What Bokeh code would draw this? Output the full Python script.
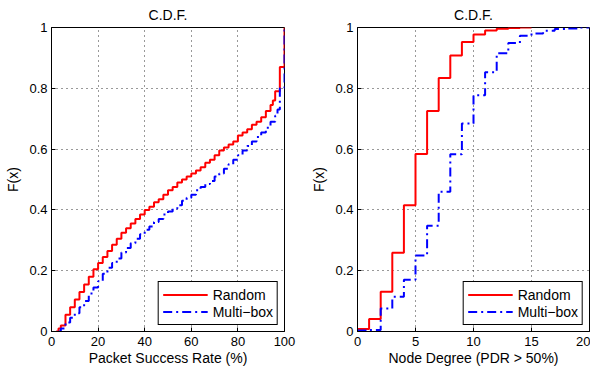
from bokeh.plotting import figure
from bokeh.layouts import row
from bokeh.models import Range1d, FixedTicker
from bokeh.embed import file_html
from bokeh.resources import INLINE

# ---- Left panel: Packet Success Rate (%) CDF ----
psr_random_x = [2, 3, 4, 6, 8, 10, 12, 14, 16, 18, 20, 22, 24, 26, 28, 30, 32, 34, 36, 38,
                40, 42, 44, 46, 48, 50, 52, 54, 56, 58, 60, 62, 64, 66, 68, 70, 72, 74, 76,
                78, 80, 82, 84, 86, 88, 90, 92, 94, 95, 96, 98, 100]
psr_random_f = [0.0, 0.01, 0.02, 0.055, 0.08, 0.105, 0.13, 0.155, 0.18, 0.205, 0.225, 0.245,
                0.265, 0.285, 0.305, 0.325, 0.34, 0.355, 0.37, 0.385, 0.40, 0.41, 0.425, 0.435,
                0.45, 0.465, 0.475, 0.49, 0.50, 0.51, 0.52, 0.53, 0.54, 0.555, 0.565, 0.58,
                0.595, 0.605, 0.615, 0.625, 0.645, 0.655, 0.665, 0.68, 0.69, 0.705, 0.725,
                0.745, 0.76, 0.79, 0.87, 1.0]
psr_multibox_x = [3, 4, 6, 8, 10, 12, 14, 16, 18, 20, 22, 24, 26, 28, 30, 32, 34, 36, 38, 40,
                  42, 44, 46, 48, 50, 52, 54, 56, 58, 60, 62, 64, 66, 68, 70, 72, 74, 76, 78,
                  80, 82, 84, 86, 88, 90, 92, 94, 96, 97, 98, 100]
psr_multibox_f = [0.0, 0.01, 0.03, 0.045, 0.06, 0.08, 0.10, 0.125, 0.145, 0.165, 0.19, 0.21,
                  0.225, 0.24, 0.26, 0.275, 0.29, 0.305, 0.32, 0.335, 0.345, 0.36, 0.37, 0.385,
                  0.395, 0.405, 0.415, 0.43, 0.44, 0.45, 0.465, 0.475, 0.485, 0.495, 0.51,
                  0.52, 0.535, 0.55, 0.565, 0.58, 0.595, 0.61, 0.625, 0.64, 0.655, 0.67, 0.69,
                  0.71, 0.73, 0.80, 1.0]
psr_ticks = [0, 20, 40, 60, 80, 100]

# ---- Right panel: Node Degree (PDR > 50%) CDF ----
deg_random_x = [0, 1, 2, 3, 4, 5, 6, 7, 8, 9, 10, 11, 12, 13, 14, 15]
deg_random_f = [0.008, 0.041, 0.131, 0.259, 0.415, 0.584, 0.725, 0.834, 0.908, 0.952, 0.977,
                0.990, 0.996, 0.998, 1.0, 1.0]
deg_multibox_x = [0, 1, 2, 3, 4, 5, 6, 7, 8, 9, 10, 11, 12, 13, 14, 15, 16, 17, 18, 19, 20]
deg_multibox_f = [0.003, 0.005, 0.076, 0.114, 0.17, 0.25, 0.348, 0.46, 0.583, 0.684, 0.777,
                  0.853, 0.915, 0.949, 0.973, 0.98, 0.989, 0.995, 0.997, 1.0, 1.0]
deg_ticks = [0, 5, 10, 15, 20]

y_ticks = [0, 0.2, 0.4, 0.6, 0.8, 1]
y_tick_labels = ["0", "0.2", "0.4", "0.6", "0.8", "1"]

series_names = ["Random", "Multi\u2212box"]
title_text = "C.D.F."

FONT = "Liberation Sans"
FIG_H = 369


def make_fig(xmax, xticks, xlabel, width, bl, br, rx, rf, mx, mf):
    p = figure(width=width, height=FIG_H, x_range=Range1d(0, xmax), y_range=Range1d(0, 1),
               output_backend="svg", toolbar_location=None, title=title_text,
               min_border_left=bl, min_border_right=br, min_border_top=26,
               min_border_bottom=FIG_H - 26 - 305)
    p.title.align = "center"
    p.title.text_font = FONT
    p.title.text_font_size = "14px"
    p.title.text_font_style = "normal"
    p.title.text_color = "black"
    p.title.standoff = 9

    p.outline_line_color = "black"
    p.outline_line_width = 1
    p.outline_line_alpha = 1

    p.xaxis.ticker = FixedTicker(ticks=xticks)
    p.yaxis.ticker = FixedTicker(ticks=y_ticks)
    p.xaxis.major_label_overrides = {t: str(t) for t in xticks}
    p.yaxis.major_label_overrides = dict(zip(y_ticks, y_tick_labels))
    p.xaxis.axis_label = xlabel
    p.yaxis.axis_label = "F(x)"
    for ax in (p.xaxis, p.yaxis):
        ax.axis_line_color = "black"
        ax.major_tick_line_color = "black"
        ax.major_tick_in = 4
        ax.major_tick_out = 0
        ax.minor_tick_line_color = None
        ax.major_label_text_font = FONT
        ax.major_label_text_font_size = "13px"
        ax.major_label_text_color = "black"
        ax.axis_label_text_font = FONT
        ax.axis_label_text_font_size = "14px"
        ax.axis_label_text_font_style = "normal"
        ax.axis_label_text_color = "black"
    p.xaxis.major_label_standoff = 5
    p.xaxis.axis_label_standoff = 1
    p.yaxis.major_label_standoff = 4
    p.yaxis.axis_label_standoff = 5

    p.xgrid.ticker = FixedTicker(ticks=xticks[1:-1])
    p.ygrid.ticker = FixedTicker(ticks=y_ticks[1:-1])
    for g in (p.xgrid, p.ygrid):
        g.grid_line_color = "black"
        g.grid_line_dash = "1 4"
        g.grid_line_width = 1
        g.grid_line_alpha = 0.8

    p.step(rx, rf, mode="after", line_color="#ff0000", line_width=2,
           legend_label=series_names[0])
    p.step(mx, mf, mode="after", line_color="#0000ff", line_width=2,
           line_dash="9 4 2 4", legend_label=series_names[1])

    lg = p.legend[0]
    lg.location = "bottom_right"
    lg.margin = 6
    lg.padding = 4
    lg.spacing = 0
    lg.glyph_width = 45
    lg.glyph_height = 17
    lg.label_height = 17
    lg.label_standoff = 5
    lg.label_text_font = FONT
    lg.label_text_font_size = "14px"
    lg.label_text_color = "black"
    lg.border_line_color = "black"
    lg.border_line_width = 1
    lg.border_line_alpha = 1
    lg.background_fill_color = "white"
    lg.background_fill_alpha = 1
    return p


p1 = make_fig(100, psr_ticks, "Packet Success Rate (%)", 298, 51, 14,
              psr_random_x, psr_random_f, psr_multibox_x, psr_multibox_f)
p2 = make_fig(20, deg_ticks, "Node Degree (PDR > 50%)", 292, 59, 1,
              deg_random_x, deg_random_f, deg_multibox_x, deg_multibox_f)

layout = row(p1, p2, spacing=0)
open("out.html", "w").write(file_html(layout, INLINE))
